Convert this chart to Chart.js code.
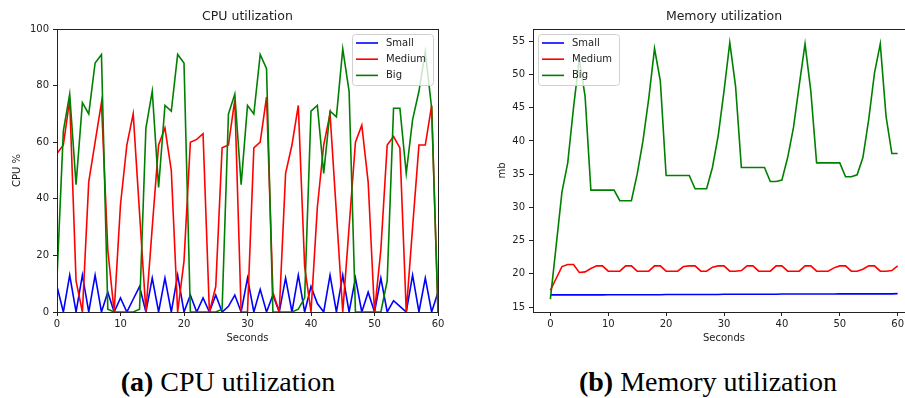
<!DOCTYPE html>
<html>
<head>
<meta charset="utf-8">
<script src="https://cdn.jsdelivr.net/npm/chart.js@4.4.1/dist/chart.umd.min.js"></script>
<style>
  html, body { margin: 0; padding: 0; background: #fff; }
  #fig { position: relative; width: 905px; height: 398px; overflow: hidden; background: #fff; }
  canvas { position: absolute; top: 0; }
  #cpuChart { left: 0; }
  #memChart { left: 470px; }
  .caption {
    position: absolute; top: 367px; width: 400px; text-align: center;
    font-family: "Liberation Serif", serif; font-size: 28px; line-height: 30px; color: #000;
  }
  .caption b { font-weight: bold; }
</style>
</head>
<body>
<div id="fig">
  <canvas id="cpuChart" width="460" height="350"></canvas>
  <canvas id="memChart" width="460" height="350"></canvas>
  <div class="caption" style="left: 28px;"><b>(a)</b> CPU utilization</div>
  <div class="caption" style="left: 508px;"><b>(b)</b> Memory utilization</div>
</div>
<script>
// time axis (seconds)
const seconds = [0, 1, 2, 3, 4, 5, 6, 7, 8, 9, 10, 11, 12, 13, 14, 15, 16, 17, 18, 19, 20,
  21, 22, 23, 24, 25, 26, 27, 28, 29, 30, 31, 32, 33, 34, 35, 36, 37, 38, 39, 40,
  41, 42, 43, 44, 45, 46, 47, 48, 49, 50, 51, 52, 53, 54, 55, 56, 57, 58, 59, 60];

// CPU utilization (%)
const cpuSmall = [9, 0, 13, 0, 13, 0, 13, 0, 7, 0, 5, 0, 4.5, 9, 0, 12, 0, 12, 0, 13, 0,
  6, 0, 5, 0, 6, 0, 2, 6, 0, 12, 0, 8, 0, 6, 0, 12, 0, 13, 0, 9,
  3, 0, 13, 0, 13, 0, 12, 0, 7, 0, 12, 0, 4, 2, 0, 13, 0, 12, 0, 7];
const cpuMedium = [56, 59, 75, 11, 0, 46, 60, 74, 22, 0, 38, 59, 70, 35, 0, 30, 59, 65, 50, 0, 18,
  60, 61, 63, 0, 9, 58, 59, 75, 0, 0, 58, 60, 76, 7, 0, 49, 59, 73, 16, 0,
  37, 59, 70, 35, 0, 30, 60, 66, 46, 0, 22, 59, 62, 58, 0, 30, 59, 59, 73, 0];
const cpuBig = [12, 64, 77, 45, 74, 70, 88, 91, 1, 0, 0, 0, 0, 1, 65, 78, 44, 73, 71, 91, 88,
  0, 0, 0, 0, 0, 1, 70, 77, 45, 73, 70, 91, 86, 0, 0, 0, 0, 1, 5, 71,
  73, 49, 71, 69, 93, 78, 0, 0, 0, 0, 0, 11, 72, 72, 49, 68, 78, 92, 72, 0];

// Memory utilization (mb)
const memSmall = [16.84, 16.84, 16.84, 16.84, 16.84, 16.84, 16.84, 16.84, 16.84, 16.84, 16.86,
  16.86, 16.86, 16.86, 16.86, 16.86, 16.86, 16.86, 16.86, 16.86, 16.9,
  16.9, 16.9, 16.9, 16.9, 16.9, 16.9, 16.9, 16.9, 16.9, 16.93,
  16.93, 16.93, 16.93, 16.93, 16.93, 16.93, 16.93, 16.93, 16.93, 16.96,
  16.96, 16.96, 16.96, 16.96, 16.96, 16.96, 16.96, 16.96, 16.96, 16.99,
  16.99, 16.99, 16.99, 16.99, 16.99, 16.99, 16.99, 16.99, 16.99, 17.02];
const memMedium = [17.5, 19.3, 21.1, 21.4, 21.4, 20.2, 20.3, 20.8, 21.2, 21.2, 20.4,
  20.4, 20.4, 21.2, 21.2, 20.4, 20.4, 20.4, 21.2, 21.2, 20.4,
  20.4, 20.4, 21.1, 21.2, 21.2, 20.4, 20.4, 21.0, 21.2, 21.2,
  20.4, 20.4, 20.5, 21.2, 21.2, 20.4, 20.4, 20.4, 21.2, 21.2,
  20.4, 20.4, 20.4, 21.2, 21.2, 20.4, 20.4, 20.4, 20.9, 21.2,
  21.2, 20.4, 20.4, 20.7, 21.2, 21.2, 20.4, 20.4, 20.5, 21.2];
const memBig = [16.2, 24.2, 32.3, 36.7, 45, 52.3, 46.7, 32.6, 32.6, 32.6, 32.6,
  32.6, 31, 31, 31, 35, 40, 46.4, 53.9, 49, 34.8,
  34.8, 34.8, 34.8, 34.8, 32.8, 32.8, 32.8, 36, 40.8, 47.5,
  54.8, 48.2, 36, 36, 36, 36, 36, 33.9, 33.9, 34.1,
  37.5, 42, 48.4, 54.6, 47.5, 36.7, 36.7, 36.7, 36.7, 36.7,
  34.6, 34.6, 34.9, 37.5, 43.2, 50.2, 54.6, 43.7, 38.1, 38.1];

// tick labels
const secondTicks = [0, 10, 20, 30, 40, 50, 60];
const cpuTicks = [0, 20, 40, 60, 80, 100];
const memTicks = [15, 20, 25, 30, 35, 40, 45, 50, 55];

const FONT = 'DejaVu Sans';
const INK = '#222';

function points(ys) {
  return seconds.map((s, i) => ({ x: s, y: ys[i] }));
}

function series(label, ys, color, order) {
  return {
    label: label,
    data: points(ys),
    borderColor: color,
    backgroundColor: color,
    borderWidth: 1.6,
    pointRadius: 0,
    tension: 0,
    fill: false,
    order: order
  };
}

// frame around the plot area (matplotlib style spines)
const framePlugin = {
  id: 'frame',
  afterDraw(chart) {
    const { ctx, chartArea: a } = chart;
    ctx.save();
    ctx.strokeStyle = INK;
    ctx.lineWidth = 1;
    ctx.strokeRect(Math.round(a.left) + 0.5, Math.round(a.top) + 0.5,
      Math.round(a.right - a.left), Math.round(a.bottom - a.top));
    ctx.restore();
  }
};

// boxed legend inside the plot area
const boxLegend = {
  id: 'boxLegend',
  afterDatasetsDraw(chart, args, opts) {
    const { ctx, chartArea: a } = chart;
    const w = 81, h = 51;
    const x = opts.corner === 'right' ? a.right - 5 - w : a.left + 5;
    const y = a.top + 5;
    ctx.save();
    ctx.beginPath();
    ctx.roundRect(x + 0.5, y + 0.5, w, h, 3);
    ctx.fillStyle = 'rgba(255,255,255,0.8)';
    ctx.fill();
    ctx.strokeStyle = '#d0d0d0';
    ctx.lineWidth = 1;
    ctx.stroke();
    chart.data.datasets.forEach((ds, i) => {
      const ly = y + 9 + i * 16.2;
      ctx.beginPath();
      ctx.moveTo(x + 4, ly);
      ctx.lineTo(x + 26, ly);
      ctx.strokeStyle = ds.borderColor;
      ctx.lineWidth = 1.6;
      ctx.stroke();
      ctx.fillStyle = INK;
      ctx.font = '10px "' + FONT + '"';
      ctx.textBaseline = 'middle';
      ctx.fillText(ds.label, x + 34, ly + 0.5);
    });
    ctx.restore();
  }
};

function makeChart(id, opts) {
  const ctx = document.getElementById(id).getContext('2d');
  return new Chart(ctx, {
    type: 'line',
    data: {
      datasets: [
        series('Small', opts.small, '#0000ff', 2),
        series('Medium', opts.medium, '#ff0000', 1),
        series('Big', opts.big, '#008000', 0)
      ]
    },
    options: {
      responsive: false,
      animation: false,
      events: [],
      layout: { padding: { left: 0, right: opts.padRight, top: 0, bottom: 0 } },
      plugins: {
        legend: { display: false },
        tooltip: { enabled: false },
        title: {
          display: true,
          text: opts.title,
          fullSize: false,
          color: INK,
          font: { family: FONT, size: 12.5, weight: 'normal' },
          padding: { top: 9, bottom: 5 }
        },
        boxLegend: { corner: opts.legendCorner }
      },
      scales: {
        x: {
          type: 'linear',
          min: opts.xMin,
          max: opts.xMax,
          afterBuildTicks: axis => { axis.ticks = secondTicks.map(v => ({ value: v })); },
          afterFit: axis => { axis.height = 38; },
          grid: { drawOnChartArea: false, drawTicks: true, tickLength: 4, color: INK },
          border: { display: false },
          ticks: { color: INK, font: { family: FONT, size: 10 }, padding: 2, maxRotation: 0 },
          title: {
            display: true, text: 'Seconds', color: INK,
            font: { family: FONT, size: 10 }, padding: { top: 0, bottom: 6 }
          }
        },
        y: {
          type: 'linear',
          min: opts.yMin,
          max: opts.yMax,
          afterBuildTicks: axis => { axis.ticks = opts.yTicks.map(v => ({ value: v })); },
          afterFit: axis => { axis.width = opts.yWidth; },
          grid: { drawOnChartArea: false, drawTicks: true, tickLength: 4, color: INK },
          border: { display: false },
          ticks: { color: INK, font: { family: FONT, size: 10 }, padding: 4 },
          title: {
            display: true, text: opts.yTitle, color: INK,
            font: { family: FONT, size: 10 }, padding: { top: opts.yTitlePad, bottom: 0 }
          }
        }
      }
    },
    plugins: [framePlugin, boxLegend]
  });
}

makeChart('cpuChart', {
  small: cpuSmall, medium: cpuMedium, big: cpuBig,
  title: 'CPU utilization', yTitle: 'CPU %',
  xMin: 0, xMax: 60, yMin: 0, yMax: 100, yTicks: cpuTicks,
  yWidth: 57, yTitlePad: 11, padRight: 22, legendCorner: 'right'
});

makeChart('memChart', {
  small: memSmall, medium: memMedium, big: memBig,
  title: 'Memory utilization', yTitle: 'mb',
  xMin: -3, xMax: 63, yMin: 14.26, yMax: 56.84, yTicks: memTicks,
  yWidth: 63, yTitlePad: 26, padRight: 15, legendCorner: 'left'
});
</script>
</body>
</html>
